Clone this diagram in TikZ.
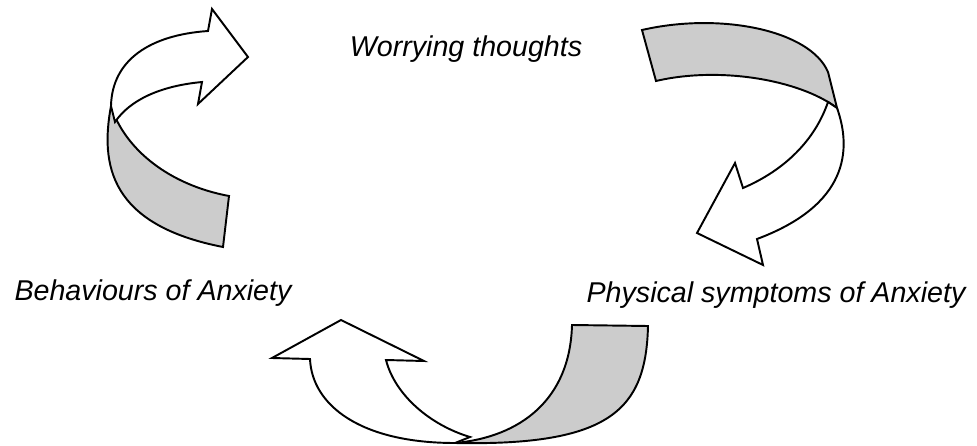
\documentclass[tikz,border=0pt]{standalone}
\usepackage{fontspec}
\setmainfont{Liberation Sans}
\usepackage{xcolor}
\usepackage{tikz}
\usetikzlibrary{positioning}
\definecolor{foldgray}{HTML}{CCCCCC}

\begin{document}
\begin{tikzpicture}[
  x=0.02cm, y=-0.02cm,
  caption/.style={font=\fontsize{16.3}{19}\selectfont\itshape, anchor=base, inner sep=0pt},
  topface/.style={draw, fill=white, line width=1.1pt, line join=miter},
  backface/.style={draw, fill=foldgray, line width=1.1pt, line join=miter},
]
  \useasboundingbox (0,0) rectangle (977,446);

  \node[caption] (worry) at (466, 57) {Worrying thoughts};
  \node[caption] (behave) at (153, 300) {Behaviours of Anxiety};
  \node[caption] (physical) at (776, 302) {Physical symptoms of Anxiety};

  \draw[backface] (111,106) .. controls (100,165) and (110,225) .. (223,247) -- (229,196) .. controls (170,185) and (125,150) .. cycle;
  \draw[topface] (111,106) .. controls (112,60) and (150,35) .. (208,31) -- (212,9) -- (248,57) -- (198,104) -- (202,82) .. controls (160,86) and (130,100) .. (115,122) -- cycle;

  \draw[backface] (642,30) .. controls (720,12) and (810,30) .. (828,72) -- (837,108) .. controls (800,80) and (720,66) .. (656,81) -- cycle;
  \draw[topface] (837,108) .. controls (852,150) and (848,205) .. (757,239) -- (763,265) -- (697,233) -- (735,163) -- (743,188) .. controls (785,170) and (815,140) .. (828,102) -- cycle;

  \draw[backface] (572,325) -- (648,326) .. controls (646,410) and (610,446) .. (455,443) .. controls (520,437) and (570,400) .. cycle;
  \draw[topface] (310,359) .. controls (312,405) and (360,443) .. (455,443) -- (470,437) .. controls (430,425) and (395,395) .. (386,360) -- (424,361) -- (341,320) -- (272,358) -- cycle;
\end{tikzpicture}
\end{document}
